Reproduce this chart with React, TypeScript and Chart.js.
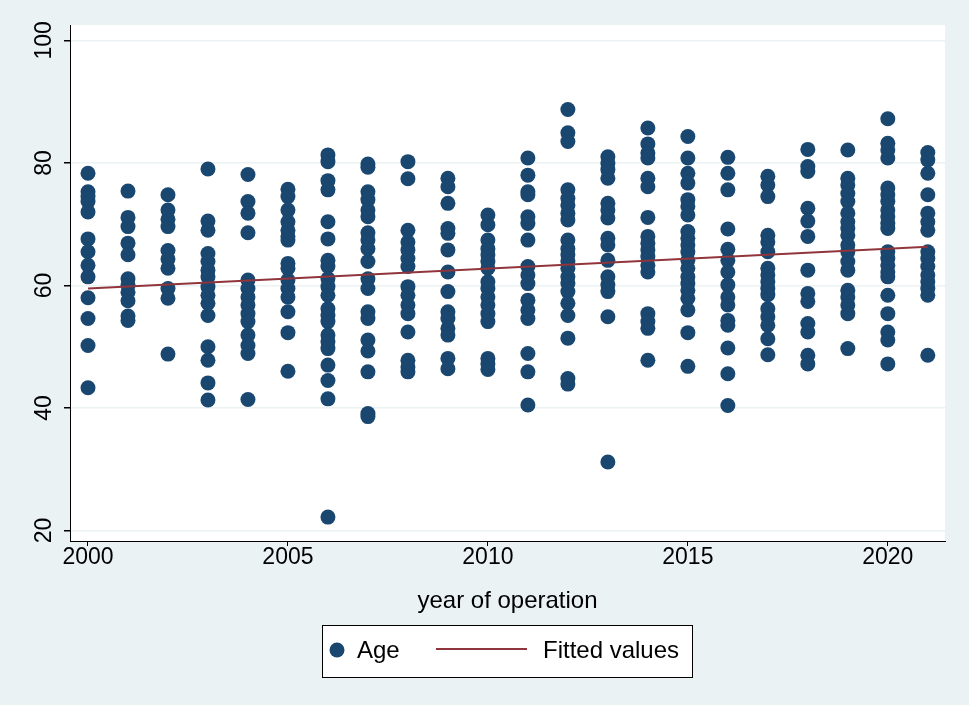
import React, { useEffect, useRef } from "react";
import { Chart, registerables } from "chart.js";
Chart.register(...registerables);

const years = [2000, 2001, 2002, 2003, 2004, 2005, 2006, 2007, 2008, 2009, 2010, 2011, 2012, 2013, 2014, 2015, 2016, 2017, 2018, 2019, 2020, 2021];

const age2000 = [78.3, 75.3, 74.5, 73.7, 72.0, 67.6, 65.5, 63.3, 61.4, 58.0, 54.6, 50.2, 43.3];
const age2001 = [75.4, 71.1, 69.6, 66.9, 65.0, 61.1, 60.0, 58.9, 57.5, 55.0, 54.3];
const age2002 = [74.8, 72.3, 70.8, 69.6, 65.7, 64.3, 62.8, 59.5, 57.9, 48.8];
const age2003 = [79.0, 70.5, 69.0, 65.2, 63.9, 62.5, 61.4, 59.8, 58.4, 57.1, 55.1, 50.0, 47.8, 44.1, 41.3];
const age2004 = [78.1, 73.7, 71.8, 68.6, 60.9, 59.5, 58.1, 56.8, 55.4, 54.1, 51.9, 50.2, 48.9, 41.4];
const age2005 = [75.7, 74.5, 72.3, 70.4, 69.0, 68.0, 67.4, 63.6, 62.8, 60.9, 59.5, 58.1, 55.7, 52.3, 46.0];
const age2006 = [81.3, 80.2, 77.1, 75.6, 70.4, 67.6, 64.1, 63.1, 61.1, 59.8, 58.4, 56.2, 55.1, 54.1, 51.9, 50.8, 49.7, 47.0, 44.5, 41.5, 22.2];
const age2007 = [79.8, 79.3, 75.3, 74.0, 72.3, 71.2, 68.6, 67.4, 66.0, 63.9, 61.1, 59.5, 55.7, 54.6, 51.1, 49.3, 45.9, 39.1, 38.6];
const age2008 = [80.2, 77.4, 69.0, 67.1, 65.8, 64.4, 63.1, 59.8, 58.4, 56.8, 55.4, 52.4, 47.8, 46.7, 45.9];
const age2009 = [77.5, 76.1, 73.4, 69.3, 68.5, 65.8, 62.2, 59.0, 55.7, 54.6, 53.0, 51.9, 48.1, 46.4];
const age2010 = [71.5, 69.9, 67.4, 66.0, 65.0, 63.9, 62.8, 60.6, 59.5, 58.1, 56.8, 55.4, 54.1, 48.1, 47.2, 46.3];
const age2011 = [80.8, 78.0, 75.3, 74.8, 71.2, 70.1, 67.4, 63.1, 61.7, 60.3, 57.6, 56.0, 54.6, 48.9, 45.9, 40.5];
const age2012 = [88.7, 84.9, 83.5, 75.6, 74.2, 73.1, 71.8, 70.7, 67.4, 66.0, 65.0, 63.9, 62.8, 61.4, 60.3, 59.0, 57.1, 55.1, 51.4, 44.8, 43.9];
const age2013 = [81.0, 79.9, 78.9, 77.5, 73.4, 72.3, 71.0, 67.7, 66.6, 64.1, 61.4, 60.1, 59.0, 54.9, 31.2];
const age2014 = [85.7, 83.1, 81.6, 80.8, 77.5, 76.1, 71.1, 68.0, 66.9, 65.8, 64.7, 63.3, 62.2, 55.4, 54.1, 53.0, 47.8];
const age2015 = [84.3, 80.8, 78.3, 76.7, 74.0, 72.9, 71.5, 68.8, 67.7, 66.6, 65.5, 64.1, 62.8, 61.4, 60.3, 59.2, 57.9, 56.0, 52.3, 46.8];
const age2016 = [80.9, 78.3, 75.6, 69.2, 65.9, 64.1, 62.2, 60.1, 58.1, 56.8, 54.3, 53.5, 49.8, 45.6, 40.4];
const age2017 = [77.8, 76.4, 74.5, 68.2, 67.1, 65.5, 62.8, 61.7, 60.6, 59.5, 58.5, 56.2, 54.9, 53.5, 51.3, 48.7];
const age2018 = [82.2, 79.4, 78.6, 72.6, 70.5, 68.0, 62.5, 58.7, 57.4, 53.8, 52.4, 48.6, 47.2];
const age2019 = [82.1, 77.5, 76.4, 75.0, 73.7, 71.8, 70.4, 69.3, 68.2, 66.6, 65.5, 63.9, 62.5, 59.2, 58.1, 56.8, 55.4, 49.7];
const age2020 = [87.2, 83.2, 82.1, 80.8, 75.9, 74.8, 73.7, 72.3, 71.2, 70.1, 69.3, 65.5, 64.4, 63.3, 62.2, 61.4, 58.4, 55.4, 52.4, 51.1, 47.2];
const age2021 = [81.7, 80.5, 78.3, 74.8, 71.8, 70.4, 69.0, 65.5, 64.4, 63.1, 61.7, 60.6, 59.5, 58.4, 48.6];

const agesByYear = [age2000, age2001, age2002, age2003, age2004, age2005, age2006, age2007, age2008, age2009, age2010, age2011, age2012, age2013, age2014, age2015, age2016, age2017, age2018, age2019, age2020, age2021];

const fitYears = [2000, 2021];
const fitValues = [59.5, 66.3];

const xTicks = [2000, 2005, 2010, 2015, 2020];
const yTicks = [20, 40, 60, 80, 100];

const xTitle = "year of operation";
const seriesLabels = ["Age", "Fitted values"];

const BG = "#EAF2F3";
const NAVY = "#1A476F";
const MAROON = "#90353B";
const FONT = '"Liberation Sans", Arial, sans-serif';

export default function App() {
  const ref = useRef<HTMLCanvasElement | null>(null);

  useEffect(() => {
    const canvas = ref.current;
    if (!canvas) return;

    const scatterData: { x: number; y: number }[] = [];
    years.forEach((yr, i) => {
      agesByYear[i].forEach((v) => scatterData.push({ x: yr, y: v }));
    });
    const fitData = fitYears.map((x, i) => ({ x, y: fitValues[i] }));

    const decor = {
      id: "decor",
      beforeDraw(chart: any) {
        const { ctx, chartArea } = chart;
        ctx.save();
        ctx.fillStyle = BG;
        ctx.fillRect(0, 0, chart.width, chart.height);
        ctx.fillStyle = "#FFFFFF";
        ctx.fillRect(chartArea.left, chartArea.top, chartArea.right - chartArea.left, chartArea.bottom - chartArea.top);
        ctx.restore();
      },
      afterDraw(chart: any) {
        const { ctx, chartArea } = chart;
        const xs = chart.scales.x;
        const ys = chart.scales.y;
        ctx.save();
        ctx.fillStyle = "#000";
        ctx.font = `23px ${FONT}`;
        // x tick labels
        ctx.textAlign = "center";
        ctx.textBaseline = "top";
        xTicks.forEach((t) => {
          ctx.fillText(String(t), xs.getPixelForValue(t), chartArea.bottom + 5);
        });
        // y tick labels (rotated)
        yTicks.forEach((t) => {
          const py = ys.getPixelForValue(t);
          ctx.save();
          ctx.translate(45, py);
          ctx.rotate(-Math.PI / 2);
          ctx.textAlign = "center";
          ctx.textBaseline = "middle";
          ctx.fillText(String(t), 0, 0);
          ctx.restore();
        });
        // x title
        ctx.font = `24px ${FONT}`;
        ctx.textAlign = "center";
        ctx.textBaseline = "middle";
        ctx.fillText(xTitle, (chartArea.left + chartArea.right) / 2, 601);
        // legend
        const lx = 322.5, ly = 625.5, lw = 370, lh = 52;
        ctx.fillStyle = "#FFFFFF";
        ctx.fillRect(lx, ly, lw, lh);
        ctx.strokeStyle = "#000";
        ctx.lineWidth = 1;
        ctx.strokeRect(lx, ly, lw, lh);
        ctx.fillStyle = NAVY;
        ctx.beginPath();
        ctx.arc(337, 650, 7.5, 0, Math.PI * 2);
        ctx.fill();
        ctx.fillStyle = "#000";
        ctx.textAlign = "left";
        ctx.textBaseline = "middle";
        ctx.fillText(seriesLabels[0], 357, 651);
        ctx.strokeStyle = MAROON;
        ctx.lineWidth = 2;
        ctx.beginPath();
        ctx.moveTo(436, 649);
        ctx.lineTo(527, 649);
        ctx.stroke();
        ctx.fillText(seriesLabels[1], 543, 651);
        ctx.restore();
      },
    };

    const chart = new Chart(canvas, {
      type: "scatter",
      data: {
        datasets: [
          {
            type: "line",
            label: seriesLabels[1],
            data: fitData,
            borderColor: MAROON,
            borderWidth: 2,
            pointRadius: 0,
            showLine: true,
            fill: false,
            order: 0,
          } as any,
          {
            type: "scatter",
            label: seriesLabels[0],
            data: scatterData,
            backgroundColor: NAVY,
            borderColor: NAVY,
            borderWidth: 0,
            pointRadius: 7.5,
            order: 1,
          },
        ],
      },
      options: {
        animation: false,
        responsive: false,
        events: [],
        layout: { padding: { left: 0, top: 25, right: 24, bottom: 0 } },
        plugins: { legend: { display: false }, tooltip: { enabled: false } },
        scales: {
          x: {
            type: "linear",
            min: 1999.55,
            max: 2021.43,
            afterBuildTicks: (s: any) => {
              s.ticks = xTicks.map((v) => ({ value: v }));
            },
            afterFit: (s: any) => {
              s.height = 164;
            },
            ticks: { display: false },
            grid: { drawOnChartArea: false, color: "#000", tickColor: "#000", tickLength: 5, lineWidth: 1 },
            border: { display: true, color: "#000", width: 1 },
          },
          y: {
            type: "linear",
            min: 18.3,
            max: 102.5,
            afterBuildTicks: (s: any) => {
              s.ticks = yTicks.map((v) => ({ value: v }));
            },
            afterFit: (s: any) => {
              s.width = 70;
            },
            ticks: { display: false },
            grid: { drawOnChartArea: true, color: BG, tickColor: "#000", tickLength: 6, lineWidth: 1.5 },
            border: { display: true, color: "#000", width: 1 },
          },
        },
      },
      plugins: [decor],
    });

    return () => chart.destroy();
  }, []);

  return (
    <div style={{ position: "fixed", left: 0, top: 0, width: 969, height: 705, background: BG }}>
      <canvas ref={ref} width={969} height={705} style={{ display: "block" }} />
    </div>
  );
}
